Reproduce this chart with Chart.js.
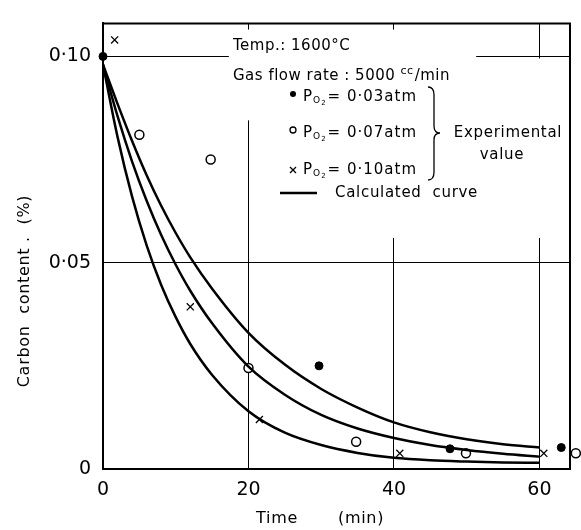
<!DOCTYPE html>
<html lang="en">
<head>
<meta charset="UTF-8">
<title>Carbon content vs time</title>
<script src="https://cdn.jsdelivr.net/npm/chart.js"></script>
<style>
  html, body { margin: 0; padding: 0; background: #fff; }
  #caixa { width: 581px; height: 530px; position: relative; }
</style>
</head>
<body>
<div id="caixa"><canvas id="grafico"></canvas></div>
<script>
// experimental values (time in min, carbon in %)
const tempo003 = [0, 29.7, 47.7, 63];
const carbono003 = [0.100, 0.025, 0.0049, 0.0052];
const tempo007 = [5, 14.8, 20, 34.8, 49.9, 65];
const carbono007 = [0.081, 0.075, 0.0245, 0.0066, 0.0038, 0.0038];
const tempo010 = [1.6, 12, 21.5, 40.8, 60.6];
const carbono010 = [0.104, 0.0393, 0.012, 0.0038, 0.0038];

// calculated curves
const curvaT = [0, 2, 4, 6, 8, 10, 12, 15, 20, 25, 30, 35, 40, 45, 50, 55, 60];
const curvaA = [0.098, 0.0805, 0.0660, 0.0542, 0.0446, 0.0368, 0.0303, 0.0228, 0.0140, 0.0088, 0.0058, 0.0039, 0.0027, 0.0021, 0.0018, 0.0016, 0.0015];
const curvaB = [0.098, 0.0855, 0.0745, 0.0650, 0.0567, 0.0495, 0.0432, 0.0353, 0.0248, 0.0180, 0.0131, 0.0098, 0.0075, 0.0058, 0.0046, 0.0037, 0.0030];
const curvaC = [0.098, 0.0885, 0.0795, 0.0712, 0.0638, 0.0572, 0.0513, 0.0437, 0.0330, 0.0253, 0.0194, 0.0149, 0.0113, 0.0089, 0.0072, 0.0060, 0.0052];

// ticks
const xTicks = [0, 20, 40, 60];
const yTicks = [0, 0.05, 0.10];
const yTickLabels = ['0', '0·05', '0·10'];

const fonte = '"DejaVu Sans", sans-serif';

function pares(t, c) {
  return t.map((v, i) => ({ x: v, y: c[i] }));
}

function curva(t, c) {
  return {
    type: 'scatter',
    data: pares(t, c),
    showLine: true,
    borderColor: '#000',
    borderWidth: 2.5,
    pointRadius: 0,
    cubicInterpolationMode: 'monotone',
    fill: false
  };
}

// white boxes that break the grid behind the notes
const mascaras = [
  { x0: 17.3, x1: 51.3, y0: 0.0845, y1: 0.1065 },
  { x0: 21, x1: 64.2, y0: 0.056, y1: 0.0995 }
];

const notas = {
  id: 'notas',
  beforeDatasetsDraw(chart) {
    const ctx = chart.ctx, x = chart.scales.x, y = chart.scales.y;
    ctx.save();
    ctx.fillStyle = '#fff';
    mascaras.forEach(m => {
      const l = x.getPixelForValue(m.x0), r = x.getPixelForValue(m.x1);
      const t = y.getPixelForValue(m.y1), b = y.getPixelForValue(m.y0);
      ctx.fillRect(l, t, r - l, b - t);
    });
    ctx.restore();
  },
  afterDraw(chart) {
    const ctx = chart.ctx, a = chart.chartArea;
    ctx.save();
    // top and right of the frame
    ctx.strokeStyle = '#000';
    ctx.lineWidth = 2;
    ctx.beginPath();
    ctx.moveTo(a.left, a.top);
    ctx.lineTo(a.right, a.top);
    ctx.lineTo(a.right, a.bottom);
    ctx.stroke();

    ctx.fillStyle = '#000';
    ctx.textBaseline = 'middle';
    ctx.letterSpacing = '0.5px';
    ctx.font = '15px ' + fonte;
    ctx.fillText('Temp.: 1600°C', 233, 46);
    ctx.fillText('Gas flow rate : 5000', 233, 76);
    let w = ctx.measureText('Gas flow rate : 5000 ').width;
    ctx.font = '11px ' + fonte;
    ctx.fillText('cc', 233 + w, 71);
    let w2 = ctx.measureText('cc').width;
    ctx.font = '15px ' + fonte;
    ctx.fillText('/min', 233 + w + w2 + 1, 76);

    // experimental value rows
    const linhas = [
      { y: 97, txt: '0·03atm', tipo: 'cheio' },
      { y: 133, txt: '0·07atm', tipo: 'aberto' },
      { y: 170, txt: '0·10atm', tipo: 'xis' }
    ];
    ctx.letterSpacing = '1px';
    linhas.forEach(l => {
      const mx = 293;
      ctx.lineWidth = 1.3;
      if (l.tipo === 'cheio') {
        ctx.beginPath(); ctx.arc(mx, l.y - 3, 3, 0, Math.PI * 2); ctx.fill();
      } else if (l.tipo === 'aberto') {
        ctx.beginPath(); ctx.arc(mx, l.y - 3, 3, 0, Math.PI * 2); ctx.stroke();
      } else {
        ctx.beginPath();
        ctx.moveTo(mx - 3, l.y - 3); ctx.lineTo(mx + 3, l.y + 3);
        ctx.moveTo(mx + 3, l.y - 3); ctx.lineTo(mx - 3, l.y + 3);
        ctx.stroke();
      }
      let px = 303;
      ctx.font = '15px ' + fonte;
      ctx.fillText('P', px, l.y);
      px += ctx.measureText('P').width;
      ctx.font = '9px ' + fonte;
      ctx.fillText('O', px, l.y + 4);
      px += ctx.measureText('O').width;
      ctx.font = '7px ' + fonte;
      ctx.fillText('2', px, l.y + 6);
      px += ctx.measureText('2').width + 1;
      ctx.font = '15px ' + fonte;
      ctx.fillText('= ' + l.txt, px, l.y);
    });
    ctx.letterSpacing = '0.7px';

    // brace
    ctx.lineWidth = 1.3;
    ctx.beginPath();
    ctx.moveTo(428, 87);
    ctx.quadraticCurveTo(434, 87, 434, 95);
    ctx.lineTo(434, 126);
    ctx.quadraticCurveTo(434, 133, 440, 133);
    ctx.quadraticCurveTo(434, 133, 434, 140);
    ctx.lineTo(434, 172);
    ctx.quadraticCurveTo(434, 180, 428, 180);
    ctx.stroke();

    ctx.font = '15px ' + fonte;
    ctx.textAlign = 'center';
    ctx.fillText('Experimental', 508, 133);
    ctx.fillText('value', 502, 155);

    // calculated curve key
    ctx.lineWidth = 2.5;
    ctx.beginPath();
    ctx.moveTo(280, 193);
    ctx.lineTo(317, 193);
    ctx.stroke();
    ctx.textAlign = 'left';
    ctx.fillText('Calculated  curve', 335, 193);

    // axis titles
    ctx.font = '16px ' + fonte;
    ctx.textAlign = 'left';
    ctx.fillText('Time', 256, 519);
    ctx.fillText('(min)', 338, 519);
    ctx.textAlign = 'center';
    ctx.translate(25, 291);
    ctx.rotate(-Math.PI / 2);
    ctx.fillText('Carbon  content .  (%)', 0, 0);
    ctx.restore();
  }
};

const dados = {
  datasets: [
    curva(curvaT, curvaA),
    curva(curvaT, curvaB),
    curva(curvaT, curvaC),
    {
      label: 'PO2 = 0.03 atm',
      data: pares(tempo003, carbono003),
      pointStyle: 'circle',
      pointRadius: 4,
      backgroundColor: '#000',
      borderColor: '#000',
      borderWidth: 1,
      clip: false
    },
    {
      label: 'PO2 = 0.07 atm',
      data: pares(tempo007, carbono007),
      pointStyle: 'circle',
      pointRadius: 4.5,
      backgroundColor: '#fff',
      borderColor: '#000',
      borderWidth: 1.5,
      clip: false
    },
    {
      label: 'PO2 = 0.10 atm',
      data: pares(tempo010, carbono010),
      pointStyle: 'crossRot',
      pointRadius: 5,
      borderColor: '#000',
      borderWidth: 1.3,
      clip: false
    }
  ]
};

const config = {
  type: 'scatter',
  data: dados,
  plugins: [notas],
  options: {
    responsive: true,
    maintainAspectRatio: false,
    animation: false,
    layout: { padding: { top: 10, right: 11, left: 0, bottom: 0 } },
    plugins: { legend: { display: false }, tooltip: { enabled: false } },
    scales: {
      x: {
        type: 'linear',
        min: 0,
        max: 64.2,
        afterBuildTicks: s => { s.ticks = xTicks.map(v => ({ value: v })); },
        afterFit: s => { s.height = 61; },
        grid: { color: '#000', lineWidth: 1, drawTicks: false },
        border: { color: '#000', width: 2 },
        ticks: { color: '#000', padding: 10, maxRotation: 0, font: { size: 19, family: fonte } }
      },
      y: {
        type: 'linear',
        min: 0,
        max: 0.108,
        afterBuildTicks: s => { s.ticks = yTicks.map(v => ({ value: v })); },
        afterFit: s => { s.width = 103; },
        grid: { color: '#000', lineWidth: 1, drawTicks: false },
        border: { color: '#000', width: 2 },
        ticks: {
          color: '#000',
          padding: 12,
          font: { size: 19, family: fonte },
          callback: (v) => yTickLabels[yTicks.indexOf(v)]
        }
      }
    }
  }
};

let grafico = new Chart(document.getElementById('grafico'), config);
</script>
</body>
</html>
